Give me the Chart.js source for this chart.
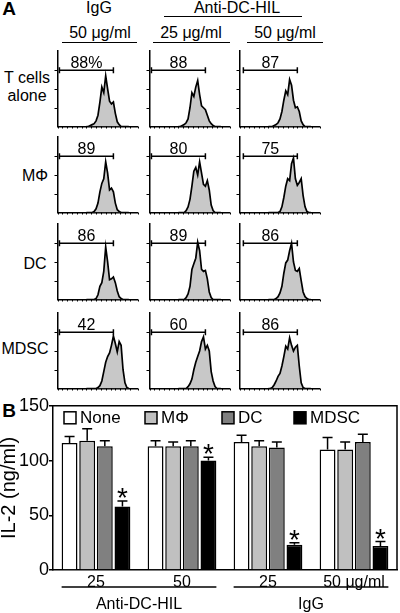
<!DOCTYPE html>
<html>
<head>
<meta charset="utf-8">
<script src="https://cdn.jsdelivr.net/npm/chart.js@4.4.0/dist/chart.umd.min.js"></script>
<style>
  body { margin: 0; background: #fff; }
  #fig { position: relative; width: 400px; height: 613px; overflow: hidden; font-family: "Liberation Sans", Arial, sans-serif; color: #000; }
  .lbl { position: absolute; transform: translate(-50%, -50%); font-size: 16px; line-height: 1; white-space: nowrap; }
  .panel { font-weight: bold; font-size: 19px; }
  .rule { position: absolute; height: 1.5px; background: #000; }
  .box { position: absolute; line-height: 0; }
  canvas { display: block; }
</style>
</head>
<body>
<div id="fig"></div>
<script>
// panel A: CFSE histograms, one row per co-culture, columns = IgG 50, anti-DC-HIL 25, anti-DC-HIL 50
var channels = [30, 32, 34, 36, 38, 40, 42, 44, 46, 48, 50, 52, 54, 56, 58, 60, 62, 64, 66, 68, 70, 72, 74];
var tCellsAlone = [
  [0, 0, 1, 2, 3, 6, 12, 26, 42, 36, 54, 40, 27, 24, 26, 14, 5, 2, 0, 0, 0, 0, 0],
  [0, 0, 1, 2, 4, 8, 20, 36, 32, 42, 49, 34, 22, 20, 18, 12, 6, 3, 1, 0, 0, 0, 0],
  [0, 0, 0, 1, 2, 4, 8, 16, 28, 38, 34, 50, 44, 28, 20, 21, 16, 6, 2, 0, 0, 0, 0]
];
var withMphi = [
  [0, 0, 0, 0, 1, 4, 10, 22, 31, 36, 54, 42, 24, 26, 22, 10, 3, 1, 0, 0, 0, 0, 0],
  [0, 0, 0, 0, 2, 6, 14, 28, 44, 48, 40, 54, 42, 30, 28, 34, 24, 8, 2, 0, 0, 0, 0],
  [0, 0, 0, 0, 0, 0, 1, 6, 16, 28, 36, 34, 52, 58, 36, 29, 32, 36, 18, 6, 1, 0, 0]
];
var withDC = [
  [0, 0, 0, 0, 0, 1, 5, 14, 18, 30, 56, 40, 21, 22, 24, 18, 9, 3, 1, 0, 0, 0, 0],
  [0, 0, 0, 0, 2, 6, 14, 32, 38, 44, 61, 52, 32, 30, 31, 22, 8, 2, 0, 0, 0, 0, 0],
  [0, 0, 0, 0, 1, 3, 7, 14, 28, 39, 42, 52, 60, 40, 31, 30, 33, 20, 8, 3, 1, 0, 0]
];
var withMDSC = [
  [0, 0, 0, 0, 0, 0, 1, 3, 8, 18, 28, 34, 38, 46, 56, 48, 39, 50, 46, 20, 6, 1, 0],
  [0, 0, 0, 0, 0, 2, 5, 10, 20, 28, 34, 40, 50, 55, 42, 46, 40, 18, 8, 2, 0, 0, 0],
  [0, 0, 1, 4, 8, 13, 16, 24, 34, 45, 42, 54, 46, 40, 44, 46, 24, 6, 1, 0, 0, 0, 0]
];
var gatePercent = [[88, 88, 87], [89, 80, 75], [86, 89, 86], [42, 60, 86]];
var gateLow = [2, 2, 4];
var gateHigh = [58, 58, 60];
var gateLevel = 60;

// panel B: IL-2 (ng/ml)
var doses = ['25', '50', '25', '50 \u03bcg/ml'];
var cellTypes = ['None', 'M\u03a6', 'DC', 'MDSC'];
var il2None = [116, 113, 117, 110];
var il2Mphi = [118, 113, 113, 110];
var il2DC = [113, 113, 112, 117];
var il2MDSC = [58, 100, 23, 22];
var errNone = [6, 5, 6, 11];
var errMphi = [11, 4, 5, 7];
var errDC = [5, 5, 5, 7];
var errMDSC = [5, 3, 2, 4];
var starMDSC = [true, true, true, true];
var antibodies = [
  { label: 'Anti-DC-HIL', from: 0, to: 1 },
  { label: 'IgG', from: 2, to: 3 }
];

Chart.defaults.font.family = '"Liberation Sans", Arial, sans-serif';
Chart.defaults.color = '#000';

var fig = document.getElementById('fig');
var colLeft = [56, 148, 238];
var rowTop = [47, 133, 220, 309];
var axisW = 83, axisH = 81;

function addLabel(text, x, y, cls) {
  var d = document.createElement('div');
  d.className = 'lbl' + (cls ? ' ' + cls : '');
  d.style.left = x + 'px';
  d.style.top = y + 'px';
  d.textContent = text;
  fig.appendChild(d);
}
function addRule(x1, x2, y) {
  var d = document.createElement('div');
  d.className = 'rule';
  d.style.left = x1 + 'px';
  d.style.width = (x2 - x1) + 'px';
  d.style.top = (y - 0.75) + 'px';
  fig.appendChild(d);
}

addLabel('A', 9, 8, 'panel');
addLabel('IgG', 99, 7.5);
addLabel('Anti-DC-HIL', 237, 7.5);
addRule(164, 302, 16.7);
addLabel('50 \u03bcg/ml', 100, 32.5);
addLabel('25 \u03bcg/ml', 191, 32.5);
addLabel('50 \u03bcg/ml', 285, 32.5);
addRule(62, 137, 42.7);
addRule(153, 230, 42.7);
addRule(247, 323, 42.7);
addLabel('T cells', 27, 77.5);
addLabel('alone', 27, 96);
addLabel('M\u03a6', 35, 176);
addLabel('DC', 35, 264);
addLabel('MDSC', 25, 348.5);
addLabel('B', 9, 410, 'panel');

// small outward tick marks + gate percentage
var histDecor = {
  id: 'histDecor',
  afterDatasetsDraw: function(chart) {
    var x = chart.scales.x, y = chart.scales.y, a = chart.chartArea;
    var ctx = chart.ctx;
    ctx.save();
    ctx.strokeStyle = '#000';
    ctx.lineWidth = 1;
    ctx.beginPath();
    x.ticks.forEach(function(t) {
      var px = Math.round(x.getPixelForValue(t.value)) + 0.5;
      ctx.moveTo(px, a.bottom);
      ctx.lineTo(px, a.bottom + 2);
    });
    y.ticks.forEach(function(t) {
      if (t.value === 0 || t.value === axisH) return;
      var py = Math.round(y.getPixelForValue(t.value)) + 0.5;
      ctx.moveTo(a.left, py);
      ctx.lineTo(a.left - 3, py);
    });
    ctx.stroke();

    var ds = chart.data.datasets[1];
    ctx.font = '16px "Liberation Sans", Arial, sans-serif';
    ctx.fillStyle = '#000';
    ctx.textAlign = 'center';
    ctx.textBaseline = 'alphabetic';
    var mid = (ds.data[0].x + ds.data[1].x) / 2;
    ctx.fillText(ds.label, x.getPixelForValue(mid), y.getPixelForValue(gateLevel) - 2.5);
    ctx.restore();
  }
};

function histChart(row, col, counts) {
  var w = axisW + 8, h = axisH + 6;
  var box = document.createElement('div');
  box.className = 'box';
  box.style.left = (colLeft[col] - 4) + 'px';
  box.style.top = (rowTop[row] - 2) + 'px';
  var cv = document.createElement('canvas');
  cv.width = w;
  cv.height = h;
  box.appendChild(cv);
  fig.appendChild(box);

  var pct = gatePercent[row][col] + (row === 0 && col === 0 ? '%' : '');
  new Chart(cv, {
    type: 'line',
    data: {
      datasets: [
        {
          data: channels.map(function(c, i) { return { x: c, y: counts[i] }; }),
          fill: 'origin',
          backgroundColor: '#c8c8c8',
          borderColor: '#000',
          borderWidth: 1.7,
          pointRadius: 0,
          tension: 0
        },
        {
          label: pct,
          data: [{ x: gateLow[col], y: gateLevel }, { x: gateHigh[col], y: gateLevel }],
          fill: false,
          borderColor: '#000',
          borderWidth: 1.5,
          pointStyle: 'line',
          pointRadius: 3,
          pointRotation: 90,
          pointBorderColor: '#000',
          pointBorderWidth: 1.5
        }
      ]
    },
    options: {
      animation: false,
      responsive: false,
      layout: { padding: { top: 2, right: 4 } },
      plugins: { legend: { display: false }, tooltip: { enabled: false } },
      scales: {
        x: {
          type: 'linear', min: 0, max: axisW,
          ticks: { display: false, stepSize: 5 },
          grid: { display: false, drawTicks: false },
          border: { display: true, color: '#000', width: 1.5 },
          afterFit: function(s) { s.height = 4; }
        },
        y: {
          min: 0, max: axisH,
          ticks: { display: false, stepSize: 20 },
          grid: { display: false, drawTicks: false },
          border: { display: true, color: '#000', width: 1.5 },
          afterFit: function(s) { s.width = 4; }
        }
      }
    },
    plugins: [histDecor]
  });
}

[tCellsAlone, withMphi, withDC, withMDSC].forEach(function(rowData, r) {
  rowData.forEach(function(counts, c) {
    histChart(r, c, counts);
  });
});

// panel B
var errorBars = {
  id: 'errorBars',
  afterDatasetsDraw: function(chart) {
    var ctx = chart.ctx, y = chart.scales.y;
    ctx.save();
    ctx.strokeStyle = '#000';
    ctx.lineWidth = 1.5;
    chart.data.datasets.forEach(function(ds, i) {
      chart.getDatasetMeta(i).data.forEach(function(bar, j) {
        var top = y.getPixelForValue(ds.data[j] + ds.errors[j]);
        ctx.beginPath();
        ctx.moveTo(bar.x, bar.y);
        ctx.lineTo(bar.x, top);
        ctx.moveTo(bar.x - 5, top);
        ctx.lineTo(bar.x + 5, top);
        ctx.stroke();
        if (ds.stars && ds.stars[j]) {
          ctx.fillStyle = '#000';
          ctx.font = '28px "Liberation Sans", Arial, sans-serif';
          ctx.textAlign = 'center';
          ctx.textBaseline = 'alphabetic';
          ctx.fillText('*', bar.x, top + 6);
        }
      });
    });
    ctx.restore();
  }
};

var frameAndLegend = {
  id: 'frameAndLegend',
  afterDraw: function(chart) {
    var ctx = chart.ctx, a = chart.chartArea;
    ctx.save();
    ctx.strokeStyle = '#000';
    ctx.lineWidth = 1.5;
    ctx.beginPath();
    ctx.moveTo(a.left, a.top);
    ctx.lineTo(a.right, a.top);
    ctx.lineTo(a.right, a.bottom);
    ctx.stroke();

    var offsets = [11, 92, 169, 241];
    ctx.font = '17px "Liberation Sans", Arial, sans-serif';
    ctx.textBaseline = 'middle';
    ctx.textAlign = 'left';
    chart.data.datasets.forEach(function(ds, i) {
      var x = a.left + offsets[i], yc = a.top + 12;
      ctx.fillStyle = ds.backgroundColor;
      ctx.fillRect(x, yc - 6, 12, 12);
      ctx.strokeRect(x, yc - 6, 12, 12);
      ctx.fillStyle = '#000';
      ctx.fillText(ds.label, x + 16, yc + 1);
    });

    var meta0 = chart.getDatasetMeta(0), meta3 = chart.getDatasetMeta(3);
    ctx.font = '16px "Liberation Sans", Arial, sans-serif';
    ctx.textAlign = 'center';
    antibodies.forEach(function(g) {
      var b0 = meta0.data[g.from], b1 = meta3.data[g.to];
      var x1 = b0.x - b0.width / 2, x2 = b1.x + b1.width / 2;
      var yl = a.bottom + 17;
      ctx.beginPath();
      ctx.moveTo(x1, yl);
      ctx.lineTo(x2, yl);
      ctx.stroke();
      ctx.fillText(g.label, (x1 + x2) / 2, yl + 18);
    });
    ctx.restore();
  }
};

var barBox = document.createElement('div');
barBox.className = 'box';
barBox.style.left = '0px';
barBox.style.top = '395px';
var barCanvas = document.createElement('canvas');
barCanvas.width = 400;
barCanvas.height = 218;
barBox.appendChild(barCanvas);
fig.appendChild(barBox);

var fills = ['#ffffff', '#c0c0c0', '#808080', '#000000'];
var values = [il2None, il2Mphi, il2DC, il2MDSC];
var errors = [errNone, errMphi, errDC, errMDSC];

new Chart(barCanvas, {
  type: 'bar',
  data: {
    labels: doses,
    datasets: cellTypes.map(function(name, i) {
      return {
        label: name,
        data: values[i],
        errors: errors[i],
        stars: i === 3 ? starMDSC : null,
        backgroundColor: fills[i],
        borderColor: '#000',
        borderWidth: 1.5,
        categoryPercentage: 0.82,
        barPercentage: 0.9
      };
    })
  },
  options: {
    animation: false,
    responsive: false,
    layout: { padding: { top: 10, right: 3 } },
    plugins: { legend: { display: false }, tooltip: { enabled: false } },
    scales: {
      x: {
        grid: { display: false, drawTicks: false },
        border: { color: '#000', width: 1.5 },
        ticks: { color: '#000', font: { size: 16 }, padding: 3, maxRotation: 0, autoSkip: false },
        afterFit: function(s) { s.height = 43; }
      },
      y: {
        min: 0, max: 150,
        ticks: { stepSize: 50, color: '#000', font: { size: 18 }, padding: 0 },
        grid: { drawOnChartArea: false, tickLength: 4, color: '#000', lineWidth: 1.5 },
        border: { color: '#000', width: 1.5 },
        title: { display: true, text: 'IL-2 (ng/ml)', color: '#000', font: { size: 20, lineHeight: 1 }, padding: { top: -1, bottom: 0 } },
        afterFit: function(s) { s.width = 53; }
      }
    }
  },
  plugins: [errorBars, frameAndLegend]
});
</script>
</body>
</html>
